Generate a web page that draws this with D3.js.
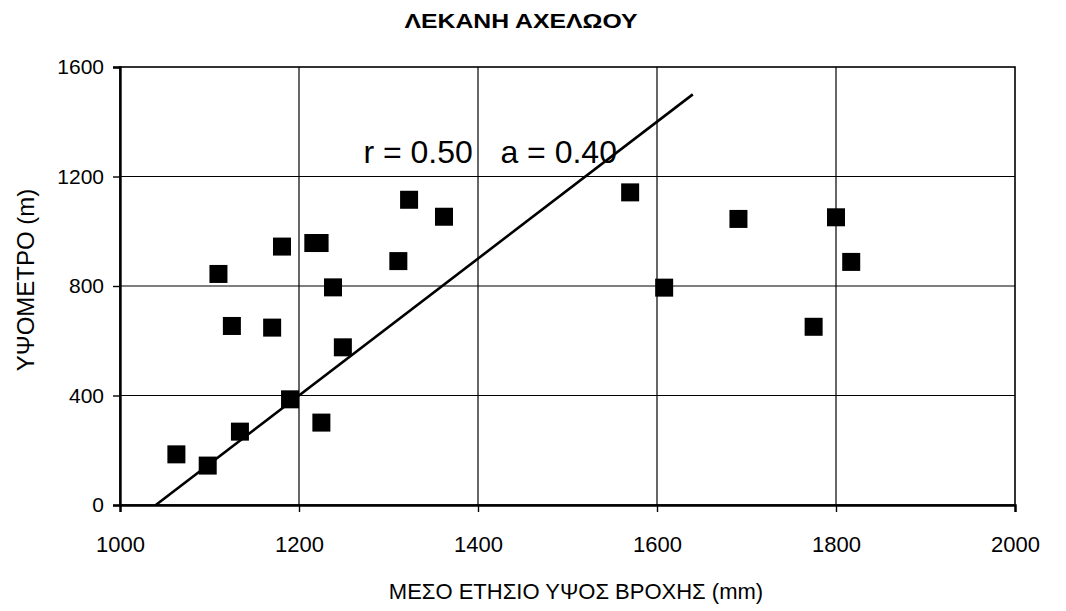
<!DOCTYPE html>
<html>
<head>
<meta charset="utf-8">
<script src="https://cdn.jsdelivr.net/npm/d3@7"></script>
<style>
  html, body { margin: 0; padding: 0; background: #fff; }
  svg { display: block; }
  text { font-family: "Liberation Sans", Arial, sans-serif; fill: #000; }
</style>
</head>
<body>
<svg id="chart" width="1066" height="611"></svg>
<script>
// ---- data ----
const title = "ΛΕΚΑΝΗ ΑΧΕΛΩΟΥ";
const xTitle = "ΜΕΣΟ ΕΤΗΣΙΟ ΥΨΟΣ ΒΡΟΧΗΣ (mm)";
const yTitle = "ΥΨΟΜΕΤΡΟ (m)";
const xTicks = [1000, 1200, 1400, 1600, 1800, 2000];
const yTicks = [0, 400, 800, 1200, 1600];
const rainfall = [1063, 1098, 1134, 1110, 1125, 1170, 1181, 1190, 1216, 1223, 1225, 1238, 1249, 1311, 1323, 1362, 1570, 1608, 1691, 1775, 1800, 1817];
const elevation = [185, 144, 268, 844, 654, 648, 944, 386, 957, 957, 301, 795, 576, 891, 1115, 1053, 1142, 794, 1045, 651, 1051, 888];
const fitRain = [1040, 1640];
const fitElev = [0, 1500];
const statLabels = ["r = 0.50", "a = 0.40"];
const statX = [1272, 1425];
const statY = 1200;

// ---- layout ----
const svg = d3.select("#chart");
const mLeft = 120, mRight = 1015, mTop = 67, mBottom = 505;
const x = d3.scaleLinear().domain([1000, 2000]).range([mLeft, mRight]);
const y = d3.scaleLinear().domain([0, 1600]).range([mBottom, mTop]);

svg.append("rect").attr("width", 1066).attr("height", 611).attr("fill", "#fff");

// gridlines
const g = svg.append("g");
g.selectAll("line.vg").data(xTicks.slice(1, -1)).enter().append("line")
  .attr("x1", d => x(d)).attr("x2", d => x(d)).attr("y1", mTop).attr("y2", mBottom)
  .attr("stroke", "#000").attr("stroke-width", 1.2);
g.selectAll("line.hg").data(yTicks.slice(1, -1)).enter().append("line")
  .attr("x1", mLeft).attr("x2", mRight).attr("y1", d => y(d)).attr("y2", d => y(d))
  .attr("stroke", "#000").attr("stroke-width", 1.2);

// frame
svg.append("rect").attr("x", mLeft).attr("y", mTop).attr("width", mRight - mLeft).attr("height", mBottom - mTop)
  .attr("fill", "none").attr("stroke", "#000").attr("stroke-width", 1.6);

// axes
const xAxis = d3.axisBottom(x).tickValues(xTicks).tickSize(7).tickPadding(24).tickFormat(d3.format("d"));
const yAxis = d3.axisLeft(y).tickValues(yTicks).tickSize(7).tickPadding(9).tickFormat(d3.format("d"));
const gx = svg.append("g").attr("transform", `translate(0,${mBottom})`).call(xAxis);
const gy = svg.append("g").attr("transform", `translate(${mLeft},0)`).call(yAxis);
[gx, gy].forEach(a => {
  a.select(".domain").attr("stroke", "#000").attr("stroke-width", 2.4);
  a.selectAll(".tick line").attr("stroke", "#000").attr("stroke-width", 1.4);
  a.selectAll(".tick text").style("font-family", "'Liberation Sans', Arial, sans-serif")
    .attr("fill", "#000");
});
gx.selectAll(".tick text").style("font-size", "22px");
gy.selectAll(".tick text").style("font-size", "21px");

// regression line
const line = d3.line().x(d => x(d[0])).y(d => y(d[1]));
svg.append("path").datum(d3.zip(fitRain, fitElev)).attr("d", line)
  .attr("fill", "none").attr("stroke", "#000").attr("stroke-width", 2.6);

// points
const s = 18;
svg.append("g").selectAll("rect").data(d3.zip(rainfall, elevation)).enter().append("rect")
  .attr("x", d => x(d[0]) - s / 2).attr("y", d => y(d[1]) - s / 2)
  .attr("width", s).attr("height", s).attr("fill", "#000");

// statistics label
svg.selectAll("text.stat").data(statLabels).enter().append("text")
  .attr("class", "stat")
  .attr("x", (d, i) => x(statX[i])).attr("y", y(statY) - 14)
  .style("font-size", "32px").text(d => d);

// titles
svg.append("text").attr("x", 521).attr("y", 28).attr("text-anchor", "middle")
  .attr("textLength", 233).attr("lengthAdjust", "spacingAndGlyphs")
  .style("font-size", "21px").style("font-weight", "bold").text(title);
svg.append("text").attr("x", 576).attr("y", 599).attr("text-anchor", "middle")
  .style("font-size", "22px").text(xTitle);
svg.append("text").attr("transform", "translate(34,280) rotate(-90)").attr("text-anchor", "middle")
  .style("font-size", "24px").text(yTitle);
</script>
</body>
</html>
